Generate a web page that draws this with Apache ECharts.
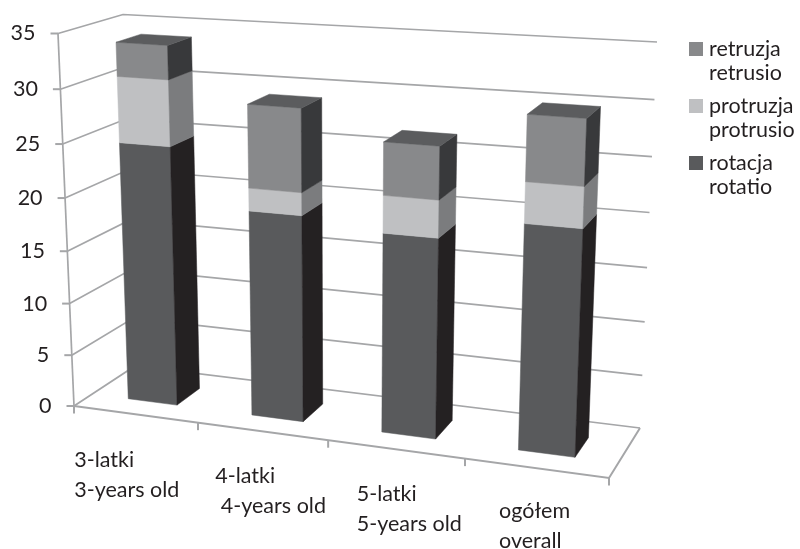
<!DOCTYPE html>
<html>
<head>
<meta charset="utf-8">
<style>html,body{margin:0;padding:0;background:#fff}#chart{width:800px;height:549px}</style>
<script src="https://cdn.jsdelivr.net/npm/echarts@6/dist/echarts.min.js"></script>
</head>
<body>
<div id="chart"></div>
<script>
// Chart values
const categories = ['3-latki\n3-years old', '4-latki\n 4-years old', '5-latki\n5-years old', 'ogółem\noverall'];
const yTicks = [0, 5, 10, 15, 20, 25, 30, 35];
const rotacja = [24.7, 19.4, 18.5, 20.5];
const protruzja = [6.1, 2.1, 3.4, 3.65];
const retruzja = [3.1, 7.6, 4.75, 5.8];

// Screen corners of the 3D box: front/back, bottom/top, left/right
const box = {
  fbl: [74, 406],  fbr: [609, 478],
  bbl: [135, 366], bbr: [640, 428],
  ftl: [58, 33.5], ftr: [625, 69],
  btl: [123, 14.5], btr: [657, 42]
};
const widthPerspective = 0.105;
const heightPerspective = 0.055;
const barDepth = [0.3, 0.7];
const barWidthShare = 0.4;
const labelShift = [-61, -47, -39, -37];
const labelDrop = [2, 1, 2, 0];
const lineColor = '#a5a6a8';
const textColor = '#231f20';
const fontSize = 21.5;
const font = fontSize + 'px Lato';
const topColor = '#5b5c5e';

const mix = (a, b, t) => [a[0] + (b[0] - a[0]) * t, a[1] + (b[1] - a[1]) * t];

// Perspective projection of a unit position (across, up, into the page)
function project(u, v, d) {
  const pu = u / (1 + widthPerspective * (1 - u));
  const pv = v / (1 + heightPerspective * (1 - v));
  const front = mix(mix(box.fbl, box.fbr, pu), mix(box.ftl, box.ftr, pu), pv);
  const back = mix(mix(box.bbl, box.bbr, pu), mix(box.btl, box.btr, pu), pv);
  return mix(front, back, d);
}

function unit(params, pt) {
  const c = params.coordSys;
  return [(pt[0] - c.x) / c.width, 1 - (pt[1] - c.y) / c.height];
}

const polyline = (points, width) => ({
  type: 'polyline',
  shape: { points },
  style: { stroke: lineColor, lineWidth: width || 1.7, fill: null }
});
const label = (x, y, text, align) => ({
  type: 'text',
  style: { x, y, text, fill: textColor, font, align, verticalAlign: 'middle' }
});

// Gridlines along the side and back walls, with value ticks and labels
function renderValueTick(params, api) {
  const value = api.value(1);
  const v = unit(params, api.coord([0, value]))[1];
  const p = project(0, v, 0);
  const children = [
    polyline([p, project(0, v, 1), project(1, v, 1)]),
    polyline([[p[0] - 7.5, p[1]], p], 2),
    label(p[0] - 22.5, p[1], String(value), 'right')
  ];
  if (value === 0) {
    children.push(
      polyline([project(0, 1, 0), p]),
      polyline([project(1, 0, 1), project(1, 0, 0), p], 2)
    );
  }
  return { type: 'group', children };
}

// Floor ticks along the front edge, with the category labels below
function renderCategoryTick(params, api) {
  const i = api.value(0);
  const half = api.size([1, 0])[0] / 2;
  const c = api.coord([i, 0]);
  const u0 = unit(params, [c[0] - half, c[1]])[0];
  const u1 = unit(params, [c[0] + half, c[1]])[0];
  const uc = unit(params, c)[0];
  const a = project(u0, 0, 0);
  const mid = project(uc, 0, 0);
  const lines = categories[i].split('\n');
  const x = mid[0] + labelShift[i];
  const y = mid[1] + 52 + labelDrop[i] + (a[1] - mid[1]);
  const children = [polyline([a, [a[0], a[1] + 7.5]], 2)];
  if (i === categories.length - 1) {
    const b = project(u1, 0, 0);
    children.push(polyline([b, [b[0], b[1] + 7.5]], 2));
  }
  lines.forEach((line, n) => {
    children.push({
      type: 'text',
      style: { x, y: y + n * 30, text: line, fill: textColor, font, align: 'left', verticalAlign: 'middle', whiteSpace: 'pre' }
    });
  });
  return { type: 'group', children };
}

// One stacked block: front face, right side and, for the last layer, a lid
function blockRenderer(frontColor, sideColor, hasTop) {
  return function (params, api) {
    const i = api.value(0);
    const c0 = api.coord([i, api.value(1)]);
    const c1 = api.coord([i, api.value(2)]);
    const half = api.size([1, 0])[0] * barWidthShare / 2;
    const u0 = unit(params, [c0[0] - half, c0[1]])[0];
    const u1 = unit(params, [c0[0] + half, c0[1]])[0];
    const v0 = unit(params, c0)[1];
    const v1 = unit(params, c1)[1];
    const [d0, d1] = barDepth;
    const face = (points, fill) => ({
      type: 'polygon',
      shape: { points },
      style: { fill, stroke: fill, lineWidth: 0.5 }
    });
    const children = [
      face([project(u0, v0, d0), project(u1, v0, d0), project(u1, v1, d0), project(u0, v1, d0)], frontColor),
      face([project(u1, v0, d0), project(u1, v0, d1), project(u1, v1, d1), project(u1, v1, d0)], sideColor)
    ];
    if (hasTop) {
      children.push(face([project(u0, v1, d0), project(u1, v1, d0), project(u1, v1, d1), project(u0, v1, d1)], topColor));
    }
    return { type: 'group', children };
  };
}

// Running totals turn the three layers into [category, from, to] rows
const layerRows = (layer, below) => layer.map((value, i) => {
  const base = below.reduce((sum, other) => sum + other[i], 0);
  return [i, base, base + value];
});

const blockSeries = (name, layer, below, front, side, hasTop) => ({
  name,
  type: 'custom',
  silent: true,
  itemStyle: { color: front },
  data: layerRows(layer, below),
  renderItem: blockRenderer(front, side, hasTop)
});

// Square placed beside the first line of a two-line legend entry
const legendIcon = 'path://M0,0H0.01V0.01H0ZM0,5H14V19H0ZM13.99,47.99H14V48H13.99Z';

const chart = echarts.init(document.getElementById('chart'), null, { renderer: 'canvas' });
chart.setOption({
  animation: false,
  backgroundColor: '#fff',
  grid: { left: 74, top: 34, width: 535, height: 372 },
  xAxis: { type: 'category', data: categories, show: false },
  yAxis: { type: 'value', min: 0, max: 35, interval: 5, show: false },
  legend: {
    orient: 'vertical',
    left: 689,
    top: 37,
    padding: 0,
    itemWidth: 14,
    itemHeight: 48,
    itemGap: 9,
    icon: legendIcon,
    selectedMode: false,
    data: ['retruzja\nretrusio', 'protruzja\nprotrusio', 'rotacja\nrotatio'],
    textStyle: { color: textColor, fontFamily: 'Lato', fontSize, lineHeight: 24, padding: [0, 0, 0, 1] }
  },
  series: [
    { type: 'custom', silent: true, data: yTicks.map(v => [0, v]), renderItem: renderValueTick },
    { type: 'custom', silent: true, data: categories.map((_, i) => [i, 0]), renderItem: renderCategoryTick },
    blockSeries('rotacja\nrotatio', rotacja, [], '#595a5c', '#242122', false),
    blockSeries('protruzja\nprotrusio', protruzja, [rotacja], '#bfc0c2', '#7b7c7e', false),
    blockSeries('retruzja\nretrusio', retruzja, [rotacja, protruzja], '#88898b', '#38393b', true)
  ]
});
</script>
</body>
</html>
